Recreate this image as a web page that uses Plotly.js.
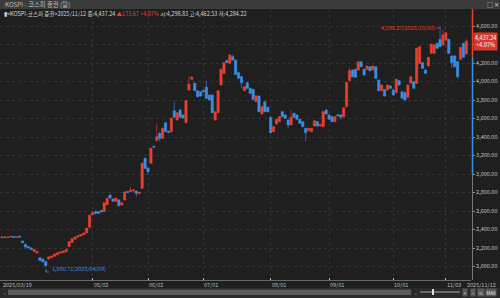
<!DOCTYPE html>
<html><head><meta charset="utf-8">
<script src="https://cdn.plot.ly/plotly-3.0.1.min.js"></script>
<style>html,body{margin:0;padding:0;background:#1f1f1f;overflow:hidden}#chart{width:500px;height:298px;}</style>
</head><body><div id="chart"></div>
<script>
// trading days per month
const tradingDays = [
  ['2025/03', [19,20,21,24,25,26,27,28,31]],
  ['2025/04', [1,2,3,4,7,8,9,10,11,14,15,16,17,18,21,22,23,24,25,28,29,30]],
  ['2025/05', [2,7,8,9,12,13,14,15,16,19,20,21,22,23,26,27,28,29,30]],
  ['2025/06', [2,4,5,9,10,11,12,13,16,17,18,19,20,23,24,25,26,27,30]],
  ['2025/07', [1,2,3,4,7,8,9,10,11,14,15,16,17,18,21,22,23,24,25,28,29,30,31]],
  ['2025/08', [1,4,5,6,7,8,11,12,13,14,18,19,20,21,22,25,26,27,28,29]],
  ['2025/09', [1,2,3,4,5,8,9,10,11,12,15,16,17,18,19,22,23,24,25,26,29,30]],
  ['2025/10', [1,2,10,13,14,15,16,17,20,21,22,23,24,27,28,29,30,31]],
  ['2025/11', [3,4,5,6,7,10,11,12]]
];
const dates = [];
tradingDays.forEach(([m, ds]) => ds.forEach(d => dates.push(m + '/' + String(d).padStart(2,'0'))));

const open = [2312,2318,2314,2320,2324,2316,2328,2275,2240,2215,2200,2160,2145,2095,2080,2055,2080,2095,2110,2128,
2145,2150,2160,2215,2260,2295,2318,2330,2342,2362,2425,2560,2595,2592,2605,2595,2668,2772,2730,2705,
2720,2665,2720,2812,2810,2815,2815,2790,2845,3170,3065,3116,3300,3361,3440,3386,3555,3460,3458,3685,
3584,3692,3638,3555,3908,4024,3980,3901,3890,3905,3937,3854,3854,3584,3663,3962,4088,4225,4197,4270,
4230,4096,4052,3901,3987,3926,3915,3782,3843,3649,3782,3721,3613,3458,3541,3566,3674,3638,3584,3530,
3656,3638,3591,3566,3494,3469,3458,3519,3566,3520,3512,3692,3638,3620,3566,3640,3638,3620,3728,4010,
4124,4132,4124,4214,4132,4132,4160,4124,4160,4016,3901,3915,3908,3951,3908,3880,4009,3890,3880,3829,
3980,3998,3980,4196,4204,4124,4168,4305,4305,4413,4456,4395,4449,4456,4276,4276,4214,4240,4413,4298.83];
const high = [2325,2328,2322,2332,2328,2326,2335,2280,2245,2220,2210,2195,2175,2100,2085,2060,2110,2118,2138,2152,
2160,2170,2190,2272,2305,2322,2335,2348,2365,2418,2560,2600,2600,2598,2610,2695,2745,2780,2738,2745,
2725,2700,2812,2818,2863,2835,2820,2810,3125,3180,3070,3285,3305,3548,3450,3500,3560,3475,3610,3782,
3670,3700,3645,3800,4060,4060,3990,3905,3895,3910,4009,3860,3860,3680,3905,4140,4214,4240,4300,4290,
4240,4100,4060,3950,3995,3930,3920,3850,3850,3735,3790,3730,3620,3518,3598,3626,3680,3645,3590,3692,
3662,3645,3598,3572,3500,3500,3500,3583,3572,3545,3680,3700,3645,3626,3626,3648,3645,3721,3998,4153,
4130,4140,4220,4220,4138,4175,4165,4175,4168,4020,3968,3920,3968,3958,3915,4030,4015,3898,3888,3968,
4058,4005,4365,4383,4210,4130,4268,4410,4400,4420,4598.27,4557,4535,4462,4282,4282,4220,4375,4420,4462.53];
const low = [2305,2310,2306,2315,2310,2310,2312,2250,2200,2195,2180,2155,2140,2060,2045,1990.71,2070,2088,2105,2122,
2140,2145,2155,2210,2255,2290,2312,2325,2338,2358,2420,2555,2565,2570,2585,2590,2660,2735,2700,2700,
2645,2660,2715,2798,2805,2810,2755,2780,2840,3055,2989,3110,3285,3355,3350,3380,3450,3440,3450,3610,
3578,3610,3600,3550,3900,4020,3895,3830,3840,3885,3812,3795,3655,3575,3655,3955,4080,4200,4190,4225,
4070,4030,3926,3895,3920,3865,3800,3775,3668,3640,3668,3668,3440,3450,3535,3560,3615,3596,3494,3525,
3608,3585,3542,3505,3350,3462,3450,3512,3512,3510,3505,3642,3585,3560,3560,3625,3585,3612,3720,4005,
4045,4040,4118,4155,4065,4125,4110,4118,4028,3895,3895,3838,3900,3920,3848,3875,3955,3812,3795,3822,
3975,3920,3975,4190,4136,4082,4160,4298,4298,4352,4370,4390,4440,4300,4142,4155,4034,4232,4250,4284.22];
const close = [2320,2314,2318,2326,2315,2322,2318,2258,2210,2200,2185,2185,2160,2065,2050,2010,2105,2112,2135,2148,
2158,2168,2185,2270,2300,2318,2332,2345,2362,2415,2555,2580,2572,2575,2590,2690,2738,2740,2705,2740,
2660,2690,2805,2800,2825,2828,2790,2800,3116,3061,3025,3278,3292,3404,3386,3494,3458,3450,3602,3613,
3663,3613,3605,3793,3973,4045,3901,3836,3843,3890,3818,3800,3663,3674,3901,4132,4204,4204,4287,4232,
4075,4034,3987,3944,3926,3872,3807,3843,3674,3728,3674,3674,3447,3512,3591,3620,3620,3602,3530,3613,
3613,3591,3548,3512,3447,3494,3494,3577,3519,3535,3674,3649,3591,3566,3620,3630,3613,3715,3990,4120,
4052,4045,4214,4160,4070,4168,4117,4168,4034,3901,3962,3843,3962,3926,3854,4024,3962,3818,3800,3962,
4052,3926,4359,4377,4142,4088,4261,4405,4395,4359,4377,4503,4528,4305,4204,4160,4052,4369,4263.57,4437.24];

const yTicks = [2000,2200,2400,2600,2800,3000,3200,3400,3600,3800,4000,4200,4400,4600];
const xTickDates = ['2025/03/19','2025/05/02','2025/06/02','2025/07/01','2025/08/01','2025/09/01','2025/10/01','2025/11/03','2025/11/12'];
const xTickText = ['2025/03/19','05/02','06/02','07/01','08/01','09/01','10/01','11/03','2025/11/12'];
const prevClose = 4263.57;
const lastClose = 4437.24, lastChange = 173.67, lastPct = 4.07;
const hiVal = 4598.27, hiDate = '2025/10/30';
const loVal = 1990.71, loDate = '2025/04/09';

const RED = '#e8402f', BLUE = '#3c8fe6';
const W = 500, H = 298, L = 0, R = 29, T = 9, B = 18;
const pw = W - L - R, ph = H - T - B;
const px = x => (x - L) / pw;           // pixel -> paper x
const py = y => (H - B - y) / ph;       // pixel -> paper y
const fmt = v => v.toLocaleString('en-US', {minimumFractionDigits:2, maximumFractionDigits:2});

const trace = {
  type: 'candlestick', x: dates, open, high, low, close,
  increasing: {line: {color: RED, width: 0.6}, fillcolor: RED},
  decreasing: {line: {color: BLUE, width: 0.6}, fillcolor: BLUE},
  whiskerwidth: 0, hoverinfo: 'skip', showlegend: false
};

const FONT = '"Noto Sans CJK KR", "Noto Sans", sans-serif';
const annotations = [];
// header title
annotations.push({xref:'paper', yref:'paper', x:px(3), y:py(4.5), xanchor:'left', yanchor:'middle', showarrow:false,
  text:'KOSPI - 코스피 증권 (일)', font:{family:FONT, size:6.3, color:'#bdbdbd'}});
annotations.push({xref:'paper', yref:'paper', x:px(485), y:py(4.5), xanchor:'left', yanchor:'middle', showarrow:false,
  text:'□ ✕', font:{family:FONT, size:6, color:'#cfcfcf'}});
// legend line
annotations.push({xref:'paper', yref:'paper', x:px(2), y:py(13.5), xanchor:'left', yanchor:'middle', showarrow:false,
  text:'▮&lt;KOSPI-코스피 증권&gt;2025/11/12 종:' + fmt(lastClose) +
   ' <span style="color:' + RED + '">▲' + fmt(lastChange) + ' +' + lastPct.toFixed(2) + '%</span>' +
   ' 시:' + fmt(open[open.length-1]) + ' 고:' + fmt(high[high.length-1]) + ' 저:' + fmt(low[low.length-1]),
  font:{family:FONT, size:5.5, color:'#d8d8d8'}});
// high / low markers
annotations.push({x:hiDate, y:hiVal, xref:'x', yref:'y', xanchor:'right', yanchor:'middle', xshift:-3, yshift:-2, showarrow:false,
  text: fmt(hiVal) + '(' + hiDate + ')', font:{family:FONT, size:5.5, color:RED}});
annotations.push({x:loDate, y:loVal, xref:'x', yref:'y', xanchor:'left', yanchor:'middle', xshift:4, yshift:-1.5, showarrow:false,
  text: fmt(loVal) + '(' + loDate + ')', font:{family:FONT, size:5.5, color:BLUE}});
// x tick labels
xTickDates.forEach((d, i) => annotations.push({x:d, xref:'x', yref:'paper', y:py(284.5), xanchor:'left', yanchor:'middle',
  xshift: -1, showarrow:false, text:xTickText[i], font:{family:FONT, size:5.5, color:'#bdbdbd'}}));
// current price box
annotations.push({xref:'paper', yref:'y', x:px(473), y:lastClose, xanchor:'left', yanchor:'middle', showarrow:false,
  text: fmt(lastClose) + '<br>+' + lastPct.toFixed(2) + '%', align:'center', bgcolor:'#d8392b', borderpad:1,
  font:{family:FONT, size:5.5, color:'#ffffff'}});
// bottom controls
annotations.push({xref:'paper', yref:'paper', x:px(2), y:py(292), xanchor:'left', yanchor:'middle', showarrow:false, text:'‹', font:{size:5,color:'#ccc'}});
annotations.push({xref:'paper', yref:'paper', x:px(413), y:py(292), xanchor:'left', yanchor:'middle', showarrow:false, text:'›', font:{size:5,color:'#ccc'}});
[['+',465],['−',473],['≡',481],['MAX',491]].forEach(([t,x]) => annotations.push({xref:'paper', yref:'paper', x:px(x), y:py(292),
  xanchor:'center', yanchor:'middle', showarrow:false, text:t, bgcolor:'#5a5a5a', borderpad:0.5, font:{family:FONT, size:4.5, color:'#eee'}}));

const shapes = [
  // top title bar
  {type:'rect', xref:'paper', yref:'paper', x0:px(0), x1:px(500), y0:py(9), y1:py(0), fillcolor:'#3b3b3b', line:{width:0}, layer:'below'},
  // right axis coloured line
  {type:'line', xref:'paper', yref:'y', x0:px(472.5), x1:px(472.5), y0:prevClose, y1:4784, line:{color:RED, width:1.5}},
  {type:'line', xref:'paper', yref:'y', x0:px(472.5), x1:px(472.5), y0:3000, y1:prevClose, line:{color:BLUE, width:1.5}},
  {type:'line', xref:'paper', yref:'y', x0:px(472.5), x1:px(472.5), y0:1854, y1:3000, line:{color:'#777', width:1}},
  // high/low leader lines
  {type:'path', xref:'paper', yref:'paper', path:'M ' + px(436) + ',' + py(28) + ' L ' + px(440) + ',' + py(28), line:{color:RED, width:0.8}},
  {type:'path', xref:'paper', yref:'paper', path:'M ' + px(46) + ',' + py(269) + ' L ' + px(46) + ',' + py(272) + ' L ' + px(49) + ',' + py(272), line:{color:BLUE, width:0.8}},
  // bottom scrollbar
  {type:'rect', xref:'paper', yref:'paper', x0:px(0), x1:px(500), y0:py(298), y1:py(288), fillcolor:'#2a2a2a', line:{width:0}},
  {type:'rect', xref:'paper', yref:'paper', x0:px(8), x1:px(411), y0:py(295), y1:py(289.5), fillcolor:'#5a5a5a', line:{width:0}},
  {type:'line', xref:'paper', yref:'paper', x0:px(420), x1:px(460), y0:py(292), y1:py(292), line:{color:'#aaa', width:1}},
  {type:'rect', xref:'paper', yref:'paper', x0:px(432), x1:px(434), y0:py(295), y1:py(289), fillcolor:'#ddd', line:{width:0}}
];

const layout = {
  width: W, height: H, margin: {l:L, r:R, t:T, b:B},
  paper_bgcolor: '#1f1f1f', plot_bgcolor: '#1f1f1f',
  showlegend: false, dragmode: false, boxgap: 0.12, boxgroupgap: 0.12,
  xaxis: {type:'category', range:[-0.68, 160.6], rangeslider:{visible:false},
    showgrid:true, gridcolor:'#333', griddash:'dot', gridwidth:1,
    showline:true, linecolor:'#6a6a6a', linewidth:1, showticklabels:false,
    ticks:'inside', ticklen:2, tickcolor:'#bbb', zeroline:false,
    tickvals: xTickDates.slice(1, -1)},
  yaxis: {side:'right', range:[1854, 4784], tickvals:yTicks, ticktext:yTicks.map(v => v === 4400 ? '' : fmt(v)),
    tickfont:{family:FONT, size:5.5, color:'#c4c4c4'}, ticks:'outside', ticklen:3, tickcolor:'#888',
    showgrid:true, gridcolor:'#333', griddash:'dot', gridwidth:1, zeroline:false, showline:false},
  font: {family: FONT},
  annotations, shapes
};
Plotly.newPlot('chart', [trace], layout, {staticPlot:true, displayModeBar:false});
</script>
</body></html>
